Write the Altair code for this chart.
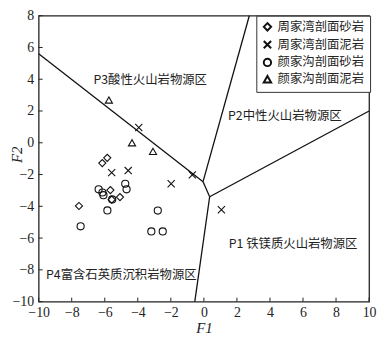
import altair as alt
import pandas as pd

# ---------------- data ----------------
series_names = ["周家湾剖面砂岩", "周家湾剖面泥岩", "颜家沟剖面砂岩", "颜家沟剖面泥岩"]

zjw_sand_f1 = [-5.85, -6.15, -5.66, -5.58, -5.08, -7.56]
zjw_sand_f2 = [-0.95, -1.28, -2.98, -3.58, -3.42, -3.98]

zjw_mud_f1 = [-3.94, -5.58, -4.58, -1.98, -0.70, 1.06]
zjw_mud_f2 = [0.96, -1.88, -1.75, -2.58, -2.02, -4.22]

yjg_sand_f1 = [-6.37, -6.14, -6.08, -4.76, -4.68, -5.55, -5.84, -2.79, -7.46, -3.18, -2.49]
yjg_sand_f2 = [-2.93, -3.13, -3.30, -2.58, -2.93, -3.57, -4.26, -4.27, -5.26, -5.58, -5.58]

yjg_mud_f1 = [-5.75, -4.35, -3.08]
yjg_mud_f2 = [2.69, 0.00, -0.54]

# boundary segments (F1, F2 start -> end)
seg_x1 = [-10.0, -0.05, -0.05, 0.35, 0.35]
seg_y1 = [5.6, -2.45, -2.45, -3.4, -3.4]
seg_x2 = [-0.05, 2.75, 0.35, 10.0, -0.55]
seg_y2 = [-2.45, 8.0, -3.4, 2.0, -10.0]

# region labels
region_text = ["P3酸性火山岩物源区", "P2中性火山岩物源区", "P1 铁镁质火山岩物源区", "P4富含石英质沉积岩物源区"]
region_f1 = [-3.25, 4.9, 5.4, -5.0]
region_f2 = [3.94, 1.68, -6.35, -8.3]

x_ticks = [-10, -8, -6, -4, -2, 0, 2, 4, 6, 8, 10]
y_ticks = [-10, -8, -6, -4, -2, 0, 2, 4, 6, 8]

# ---------------- tables ----------------
rows = []
for name, xs, ys in [
    (series_names[0], zjw_sand_f1, zjw_sand_f2),
    (series_names[1], zjw_mud_f1, zjw_mud_f2),
    (series_names[2], yjg_sand_f1, yjg_sand_f2),
    (series_names[3], yjg_mud_f1, yjg_mud_f2),
]:
    for a, b in zip(xs, ys):
        rows.append({"F1": a, "F2": b, "series": name})
pts = pd.DataFrame(rows)

segs = pd.DataFrame({"x1": seg_x1, "y1": seg_y1, "x2": seg_x2, "y2": seg_y2})
labels = pd.DataFrame({"t": region_text, "F1": region_f1, "F2": region_f2})
xt = pd.DataFrame({"v": x_ticks})
yt = pd.DataFrame({"v": y_ticks})

W, H = 334, 289
xscale = alt.Scale(domain=[-10, 10], nice=False, zero=False)
yscale = alt.Scale(domain=[-10, 8], nice=False, zero=False)

serif = "Liberation Serif"
cjk = "Noto Sans CJK SC"

xaxis = alt.Axis(values=x_ticks, title="F1", labelPadding=4, titlePadding=1)
yaxis = alt.Axis(values=y_ticks, title="F2", labelPadding=5,
                 titleX=-22, titleY=140, titleAngle=270,
                 titleAlign="center", titleBaseline="middle")

cross = "M-1,-1L1,1M1,-1L-1,1"

points = alt.Chart(pts).mark_point(filled=False, stroke="#111", strokeWidth=1.1, opacity=1).encode(
    x=alt.X("F1:Q", scale=xscale, axis=xaxis),
    y=alt.Y("F2:Q", scale=yscale, axis=yaxis),
    shape=alt.Shape("series:N",
                    scale=alt.Scale(domain=series_names,
                                    range=["diamond", cross, "circle", "triangle-up"]),
                    legend=alt.Legend(title=None, orient="none", legendX=220, legendY=0,
                                      strokeColor="#333", padding=5, fillColor="white",
                                      labelFont=cjk, labelFontSize=12.5, labelColor="#222",
                                      symbolStrokeColor="#111", symbolStrokeWidth=2,
                                      symbolSize=55, symbolFillColor="transparent",
                                      rowPadding=2, labelOffset=4, cornerRadius=0)),
    size=alt.value(52),
)

lines = alt.Chart(segs).mark_rule(color="#111", strokeWidth=1.3).encode(
    x=alt.X("x1:Q", scale=xscale, axis=xaxis), y=alt.Y("y1:Q", scale=yscale, axis=yaxis),
    x2="x2:Q", y2="y2:Q",
)

texts = alt.Chart(labels).mark_text(font=cjk, fontSize=12.5, color="#222",
                                    align="center", baseline="middle").encode(
    x=alt.X("F1:Q", scale=xscale, axis=xaxis), y=alt.Y("F2:Q", scale=yscale, axis=yaxis), text="t:N",
)

xticks = alt.Chart(xt).mark_rule(color="#222", strokeWidth=1).encode(
    x=alt.X("v:Q", scale=xscale, axis=xaxis), y=alt.value(H), y2=alt.value(H - 4),
)
yticks = alt.Chart(yt).mark_rule(color="#222", strokeWidth=1).encode(
    y=alt.Y("v:Q", scale=yscale, axis=yaxis), x=alt.value(0), x2=alt.value(4),
)

chart = alt.layer(lines, xticks, yticks, texts, points).properties(
    width=W, height=H,
    background="white",
    autosize=alt.AutoSizeParams(type="none"),
    padding={"left": 31, "top": 6, "right": 8, "bottom": 35},
).configure_view(
    stroke="#222", strokeWidth=1.3
).configure_axis(
    grid=False, domain=False, ticks=False, labelOverlap=False, labelFlush=False,
    labelFont=serif, labelFontSize=14, labelColor="#222",
    titleFont=serif, titleFontStyle="italic", titleFontWeight="normal",
    titleFontSize=15, titleColor="#222",
)

chart.save("out.html", embed_options={"renderer": "svg", "actions": False})
